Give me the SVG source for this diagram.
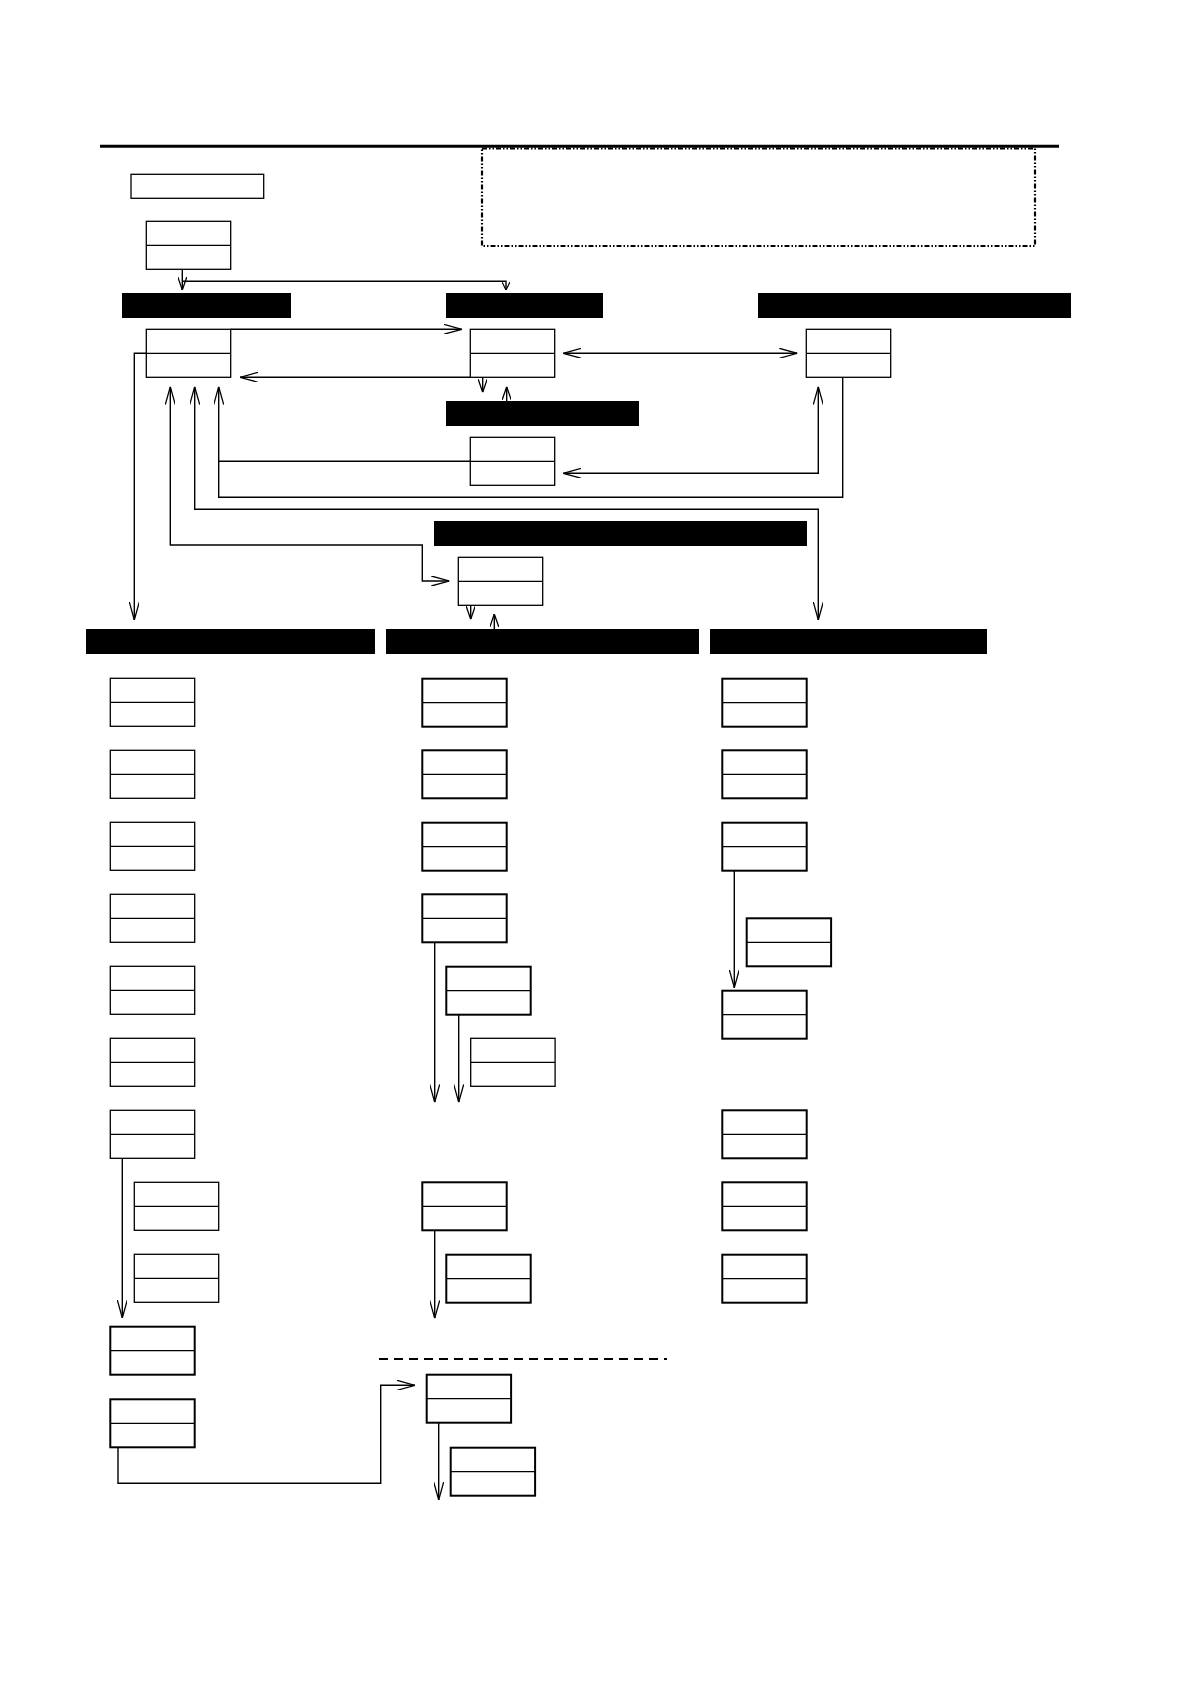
<svg xmlns="http://www.w3.org/2000/svg" width="1190" height="1684" viewBox="0 0 1190 1684">
<style>
.bx{fill:#fff;stroke:#000;stroke-width:1.3}
.tk{stroke-width:2}
.dv{stroke:#000;stroke-width:1.2}
.bar{fill:#000}
.cn{fill:none;stroke:#000;stroke-width:1.4}
</style>
<defs>
<marker id="ah" viewBox="0 0 18 10" refX="18" refY="5" markerWidth="18" markerHeight="10" markerUnits="userSpaceOnUse" orient="auto-start-reverse"><path d="M0,0 L18,5 L0,10" fill="none" stroke="#000" stroke-width="1.3"/></marker>
<marker id="as" viewBox="0 0 13 9" refX="13" refY="4.5" markerWidth="13" markerHeight="9" markerUnits="userSpaceOnUse" orient="auto-start-reverse"><path d="M0,0 L13,4.5 L0,9" fill="none" stroke="#000" stroke-width="1.3"/></marker>
<marker id="at" viewBox="0 0 8 8" refX="8" refY="4" markerWidth="8" markerHeight="8" markerUnits="userSpaceOnUse" orient="auto"><path d="M0,0 L8,4 L0,8" fill="none" stroke="#000" stroke-width="1.2"/></marker>
</defs>
<rect width="1190" height="1684" fill="#fff"/>
<g id="frame">
<rect x="482" y="148.5" width="553" height="97.5" fill="none" stroke="#000" stroke-width="2.2" stroke-dasharray="5,2,1.5,2,1.5,2"/>
<line x1="100" y1="146.3" x2="1059" y2="146.3" stroke="#000" stroke-width="3"/>
<line x1="379" y1="1359" x2="667" y2="1359" stroke="#000" stroke-width="2" stroke-dasharray="9,6"/>
</g>
<g id="bars">
<rect id="bar1" class="bar" x="122" y="293" width="169" height="25"/>
<rect id="bar2" class="bar" x="446" y="293" width="157" height="25"/>
<rect id="bar3" class="bar" x="758" y="293" width="313" height="25"/>
<rect id="bar4" class="bar" x="446" y="401" width="193" height="25"/>
<rect id="bar5" class="bar" x="434" y="521" width="373" height="25"/>
<rect id="bar6" class="bar" x="86" y="629" width="289" height="25"/>
<rect id="bar7" class="bar" x="386" y="629" width="313" height="25"/>
<rect id="bar8" class="bar" x="710" y="629" width="277" height="25"/>
</g>
<g id="title"><rect class="bx" x="131" y="174.3" width="132.7" height="24"/></g>
<g id="nA"><rect class="bx" x="146.3" y="221.3" width="84.4" height="48"/><line class="dv" x1="146.3" y1="245.3" x2="230.7" y2="245.3"/></g>
<g id="nB"><rect class="bx" x="146.3" y="329.3" width="84.4" height="48"/><line class="dv" x1="146.3" y1="353.3" x2="230.7" y2="353.3"/></g>
<g id="nC"><rect class="bx" x="470.3" y="329.3" width="84.4" height="48"/><line class="dv" x1="470.3" y1="353.3" x2="554.7" y2="353.3"/></g>
<g id="nD"><rect class="bx" x="806.3" y="329.3" width="84.4" height="48"/><line class="dv" x1="806.3" y1="353.3" x2="890.7" y2="353.3"/></g>
<g id="nE"><rect class="bx" x="470.3" y="437.3" width="84.4" height="48"/><line class="dv" x1="470.3" y1="461.3" x2="554.7" y2="461.3"/></g>
<g id="nF"><rect class="bx" x="458.3" y="557.3" width="84.4" height="48"/><line class="dv" x1="458.3" y1="581.3" x2="542.7" y2="581.3"/></g>
<g id="nL1"><rect class="bx" x="110.3" y="678.3" width="84.4" height="48"/><line class="dv" x1="110.3" y1="702.3" x2="194.7" y2="702.3"/></g>
<g id="nL2"><rect class="bx" x="110.3" y="750.3" width="84.4" height="48"/><line class="dv" x1="110.3" y1="774.3" x2="194.7" y2="774.3"/></g>
<g id="nL3"><rect class="bx" x="110.3" y="822.3" width="84.4" height="48"/><line class="dv" x1="110.3" y1="846.3" x2="194.7" y2="846.3"/></g>
<g id="nL4"><rect class="bx" x="110.3" y="894.3" width="84.4" height="48"/><line class="dv" x1="110.3" y1="918.3" x2="194.7" y2="918.3"/></g>
<g id="nL5"><rect class="bx" x="110.3" y="966.3" width="84.4" height="48"/><line class="dv" x1="110.3" y1="990.3" x2="194.7" y2="990.3"/></g>
<g id="nL6"><rect class="bx" x="110.3" y="1038.3" width="84.4" height="48"/><line class="dv" x1="110.3" y1="1062.3" x2="194.7" y2="1062.3"/></g>
<g id="nL7"><rect class="bx" x="110.3" y="1110.3" width="84.4" height="48"/><line class="dv" x1="110.3" y1="1134.3" x2="194.7" y2="1134.3"/></g>
<g id="nL7a"><rect class="bx" x="134.3" y="1182.3" width="84.4" height="48"/><line class="dv" x1="134.3" y1="1206.3" x2="218.7" y2="1206.3"/></g>
<g id="nL7b"><rect class="bx" x="134.3" y="1254.3" width="84.4" height="48"/><line class="dv" x1="134.3" y1="1278.3" x2="218.7" y2="1278.3"/></g>
<g id="nL8"><rect class="bx tk" x="110.3" y="1326.7" width="84.4" height="48"/><line class="dv" x1="110.3" y1="1350.7" x2="194.7" y2="1350.7"/></g>
<g id="nL9"><rect class="bx tk" x="110.3" y="1399.3" width="84.4" height="48"/><line class="dv" x1="110.3" y1="1423.3" x2="194.7" y2="1423.3"/></g>
<g id="nM1"><rect class="bx tk" x="422.3" y="678.7" width="84.4" height="48"/><line class="dv" x1="422.3" y1="702.7" x2="506.7" y2="702.7"/></g>
<g id="nM2"><rect class="bx tk" x="422.3" y="750.3" width="84.4" height="48"/><line class="dv" x1="422.3" y1="774.3" x2="506.7" y2="774.3"/></g>
<g id="nM3"><rect class="bx tk" x="422.3" y="822.7" width="84.4" height="48"/><line class="dv" x1="422.3" y1="846.7" x2="506.7" y2="846.7"/></g>
<g id="nM4"><rect class="bx tk" x="422.3" y="894.3" width="84.4" height="48"/><line class="dv" x1="422.3" y1="918.3" x2="506.7" y2="918.3"/></g>
<g id="nM4a"><rect class="bx tk" x="446.3" y="966.7" width="84.4" height="48"/><line class="dv" x1="446.3" y1="990.7" x2="530.7" y2="990.7"/></g>
<g id="nM4b"><rect class="bx" x="470.7" y="1038.3" width="84.4" height="48"/><line class="dv" x1="470.7" y1="1062.3" x2="555.1" y2="1062.3"/></g>
<g id="nM5"><rect class="bx tk" x="422.3" y="1182.3" width="84.4" height="48"/><line class="dv" x1="422.3" y1="1206.3" x2="506.7" y2="1206.3"/></g>
<g id="nM5a"><rect class="bx tk" x="446.3" y="1254.7" width="84.4" height="48"/><line class="dv" x1="446.3" y1="1278.7" x2="530.7" y2="1278.7"/></g>
<g id="nM6"><rect class="bx tk" x="426.7" y="1374.7" width="84.4" height="48"/><line class="dv" x1="426.7" y1="1398.7" x2="511.1" y2="1398.7"/></g>
<g id="nM6a"><rect class="bx tk" x="450.7" y="1447.7" width="84.4" height="48"/><line class="dv" x1="450.7" y1="1471.7" x2="535.1" y2="1471.7"/></g>
<g id="nR1"><rect class="bx tk" x="722.3" y="678.7" width="84.4" height="48"/><line class="dv" x1="722.3" y1="702.7" x2="806.7" y2="702.7"/></g>
<g id="nR2"><rect class="bx tk" x="722.3" y="750.3" width="84.4" height="48"/><line class="dv" x1="722.3" y1="774.3" x2="806.7" y2="774.3"/></g>
<g id="nR3"><rect class="bx tk" x="722.3" y="822.7" width="84.4" height="48"/><line class="dv" x1="722.3" y1="846.7" x2="806.7" y2="846.7"/></g>
<g id="nR3a"><rect class="bx tk" x="746.7" y="918.3" width="84.4" height="48"/><line class="dv" x1="746.7" y1="942.3" x2="831.1" y2="942.3"/></g>
<g id="nR4"><rect class="bx tk" x="722.3" y="990.7" width="84.4" height="48"/><line class="dv" x1="722.3" y1="1014.7" x2="806.7" y2="1014.7"/></g>
<g id="nR5"><rect class="bx tk" x="722.3" y="1110.3" width="84.4" height="48"/><line class="dv" x1="722.3" y1="1134.3" x2="806.7" y2="1134.3"/></g>
<g id="nR6"><rect class="bx tk" x="722.3" y="1182.3" width="84.4" height="48"/><line class="dv" x1="722.3" y1="1206.3" x2="806.7" y2="1206.3"/></g>
<g id="nR7"><rect class="bx tk" x="722.3" y="1254.7" width="84.4" height="48"/><line class="dv" x1="722.3" y1="1278.7" x2="806.7" y2="1278.7"/></g>
<g id="connectors">
<path class="cn" d="M182.3,269.3 V290" marker-end="url(#as)"/>
<path class="cn" d="M182.3,281.3 H506 V290" marker-end="url(#at)"/>
<path class="cn" d="M230.7,329.3 H461.7" marker-end="url(#ah)"/>
<path class="cn" d="M470.3,377.3 H240" marker-end="url(#ah)"/>
<path class="cn" d="M146.3,353.3 H134.3 V620" marker-end="url(#ah)"/>
<path class="cn" d="M563.3,353.3 H797.3" marker-start="url(#ah)" marker-end="url(#ah)"/>
<path class="cn" d="M482.7,377.3 V392.3" marker-end="url(#as)"/>
<path class="cn" d="M506.7,401.3 V386.7" marker-end="url(#as)"/>
<path class="cn" d="M470.3,461.3 H218.7 V386.7" marker-end="url(#ah)"/>
<path class="cn" d="M842.7,377.3 V497.3 H218.7 V461.3"/>
<path class="cn" d="M563.3,473.3 H818.3 V386.7" marker-start="url(#ah)" marker-end="url(#ah)"/>
<path class="cn" d="M194.7,386.7 V509.3 H818.3 V620" marker-start="url(#ah)" marker-end="url(#ah)"/>
<path class="cn" d="M170.3,386.7 V545 H422.3 V581 H449.3" marker-start="url(#ah)" marker-end="url(#ah)"/>
<path class="cn" d="M470.7,605.3 V619.3" marker-end="url(#as)"/>
<path class="cn" d="M494.3,629 V614" marker-end="url(#as)"/>
<path class="cn" d="M122.3,1158.3 V1318" marker-end="url(#ah)"/>
<path class="cn" d="M118,1447.7 V1483.3 H380.7 V1385.3 H415" marker-end="url(#ah)"/>
<path class="cn" d="M434.7,942.3 V1102.3" marker-end="url(#ah)"/>
<path class="cn" d="M458.7,1014.7 V1102.3" marker-end="url(#ah)"/>
<path class="cn" d="M434.7,1230.3 V1318.3" marker-end="url(#ah)"/>
<path class="cn" d="M438.7,1422.7 V1500" marker-end="url(#ah)"/>
<path class="cn" d="M734.3,870.7 V987.7" marker-end="url(#ah)"/>
</g>
</svg>
